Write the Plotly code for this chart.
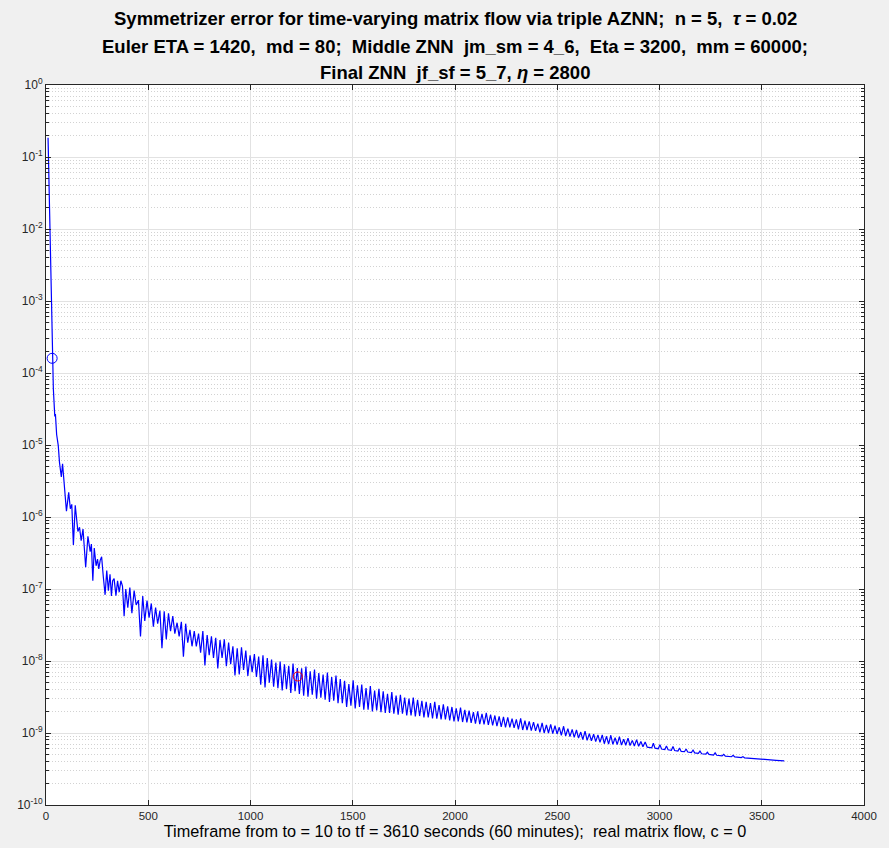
import plotly.graph_objects as go

# ---------------- data ----------------
# initial fast decay and irregular oscillation (t in seconds, error)
early_t = [10, 30, 36, 43, 46, 52, 60, 66, 75, 81, 89, 100, 111, 119, 126, 134,
           143, 150, 156, 164, 172, 181, 194, 205, 216, 222, 229, 236, 245, 252,
           258, 265, 272, 280, 289, 297, 305, 313, 320, 326, 333, 342, 350, 358,
           366, 374, 382, 390, 400]
early_err = [1.85e-1, 1.6e-4, 6.0e-5, 2.5e-5, 2.7e-5, 1.4e-5, 9.8e-6, 5.7e-6,
             3.6e-6, 5.5e-6, 2.6e-6, 1.2e-6, 2.2e-6, 1.3e-6, 1.5e-6, 4.1e-7,
             1.45e-6, 9.0e-7, 6.3e-7, 7.2e-7, 4.7e-7, 6.8e-7, 2.0e-7, 5.4e-7,
             3.3e-7, 4.2e-7, 1.3e-7, 3.7e-7, 2.1e-7, 2.6e-7, 1.9e-7, 2.5e-7,
             2.8e-7, 1.5e-7, 8.3e-8, 1.8e-7, 9.5e-8, 1.6e-7, 8.0e-8, 1.3e-7,
             1.4e-7, 8.1e-8, 1.3e-7, 9.0e-8, 1.3e-7, 1.1e-7, 4.2e-8, 1.0e-7,
             5.5e-8]

# regular oscillation: peak times and trough times (trough 10 s after peak)
peak_t = list(range(410, 2931, 21))
trough_t = [p + 10 for p in peak_t]
peak_err = [
    1.05e-7, 9.5e-8, 7.0e-8, 8.0e-8, 6.9e-8,
    6.3e-8, 5.5e-8, 5.0e-8, 4.9e-8, 4.6e-8,
    4.2e-8, 3.4e-8, 3.5e-8, 3.3e-8, 2.7e-8,
    2.6e-8, 2.4e-8, 2.6e-8, 2.3e-8, 2.2e-8,
    2.1e-8, 1.95e-8, 2.0e-8, 1.8e-8, 1.6e-8,
    1.5e-8, 1.55e-8, 1.4e-8, 1.2e-8, 1.25e-8,
    1.15e-8, 1.2e-8, 1.1e-8, 1.05e-8, 9.5e-9,
    9.8e-9, 9.0e-9, 8.6e-9, 9.2e-9, 8.0e-9,
    7.9e-9, 8.4e-9, 7.2e-9, 7.6e-9, 6.8e-9,
    6.5e-9, 6.9e-9, 6.0e-9, 6.3e-9, 5.6e-9,
    5.3e-9, 4.8e-9, 5.4e-9, 4.6e-9, 4.7e-9,
    4.2e-9, 4.5e-9, 3.9e-9, 4.1e-9, 3.8e-9,
    3.5e-9, 3.7e-9, 3.3e-9, 3.4e-9, 3.1e-9,
    3.0e-9, 3.1e-9, 2.9e-9, 2.8e-9, 2.7e-9,
    2.6e-9, 2.7e-9, 2.45e-9, 2.5e-9, 2.35e-9,
    2.3e-9, 2.2e-9, 2.25e-9, 2.1e-9, 2.05e-9,
    1.95e-9, 2.0e-9, 1.85e-9, 1.9e-9, 1.8e-9,
    1.75e-9, 1.7e-9, 1.68e-9, 1.65e-9, 1.58e-9,
    1.55e-9, 1.6e-9, 1.48e-9, 1.45e-9, 1.42e-9,
    1.35e-9, 1.38e-9, 1.3e-9, 1.32e-9, 1.26e-9,
    1.2e-9, 1.24e-9, 1.15e-9, 1.12e-9, 1.1e-9,
    1.03e-9, 1.06e-9, 9.8e-10, 9.6e-10, 9.4e-10,
    9.4e-10, 9.0e-10, 9.3e-10, 8.6e-10, 8.9e-10,
    8.2e-10, 8.5e-10, 7.9e-10, 8.1e-10, 7.6e-10, 7.5e-10,
]
trough_err = [
    4.6e-8, 6.0e-8, 2.2e-8, 3.6e-8, 4.0e-8,
    3.0e-8, 3.3e-8, 1.5e-8, 2.0e-8, 2.6e-8,
    2.4e-8, 2.2e-8, 1.15e-8, 1.8e-8, 1.6e-8,
    1.6e-8, 1.3e-8, 8.7e-9, 1.2e-8, 1.1e-8,
    7.9e-9, 1.1e-8, 8.5e-9, 9.0e-9, 6.3e-9,
    6.5e-9, 7.5e-9, 6.2e-9, 7.0e-9, 6.0e-9,
    4.7e-9, 4.3e-9, 5.0e-9, 4.4e-9, 4.2e-9,
    3.9e-9, 4.1e-9, 3.6e-9, 3.8e-9, 3.5e-9,
    3.3e-9, 3.2e-9, 3.4e-9, 3.0e-9, 3.1e-9,
    2.9e-9, 2.7e-9, 2.8e-9, 2.6e-9, 2.6e-9,
    2.3e-9, 2.4e-9, 2.2e-9, 2.3e-9, 2.1e-9,
    2.1e-9, 2.0e-9, 2.05e-9, 1.95e-9, 1.9e-9,
    1.9e-9, 1.85e-9, 1.8e-9, 1.85e-9, 1.75e-9,
    1.75e-9, 1.7e-9, 1.72e-9, 1.65e-9, 1.65e-9,
    1.6e-9, 1.58e-9, 1.55e-9, 1.55e-9, 1.5e-9,
    1.45e-9, 1.45e-9, 1.42e-9, 1.4e-9, 1.38e-9,
    1.35e-9, 1.33e-9, 1.32e-9, 1.3e-9, 1.28e-9,
    1.25e-9, 1.22e-9, 1.2e-9, 1.2e-9, 1.18e-9,
    1.12e-9, 1.1e-9, 1.1e-9, 1.08e-9, 1.07e-9,
    1.02e-9, 1.0e-9, 1.0e-9, 9.8e-10, 9.7e-10,
    9.3e-10, 9.1e-10, 8.9e-10, 8.7e-10, 8.5e-10,
    8.1e-10, 7.9e-10, 7.8e-10, 7.6e-10, 7.4e-10,
    7.1e-10, 7.0e-10, 6.95e-10, 6.9e-10, 6.8e-10,
    6.75e-10, 6.7e-10, 6.6e-10, 6.55e-10, 6.45e-10, 6.35e-10,
]

# late part: smooth baseline with sparse small spikes
late_t = [2962, 2970, 2978, 2994, 3002, 3010, 3026, 3034, 3042, 3058, 3066, 3074,
          3090, 3098, 3106, 3122, 3130, 3138, 3156, 3164, 3172, 3190, 3198, 3206,
          3226, 3234, 3242, 3264, 3272, 3280, 3306, 3314, 3322, 3352, 3360, 3368,
          3400, 3408, 3416, 3450, 3458, 3466, 3520, 3570, 3610]
late_err = [6.2e-10, 7.2e-10, 6.15e-10, 6.05e-10, 6.9e-10, 6.0e-10,
            5.9e-10, 6.6e-10, 5.85e-10, 5.75e-10, 6.5e-10, 5.7e-10,
            5.6e-10, 6.2e-10, 5.55e-10, 5.5e-10, 6.0e-10, 5.45e-10,
            5.35e-10, 5.8e-10, 5.3e-10, 5.2e-10, 5.6e-10, 5.15e-10,
            5.1e-10, 5.4e-10, 5.05e-10, 4.95e-10, 5.3e-10, 4.9e-10,
            4.8e-10, 5.05e-10, 4.78e-10, 4.68e-10, 4.9e-10, 4.65e-10,
            4.55e-10, 4.7e-10, 4.52e-10, 4.42e-10, 4.5e-10, 4.4e-10,
            4.28e-10, 4.18e-10, 4.1e-10]

# marked points
blue_mark_t, blue_mark_err = [30], [1.6e-4]
red_mark_t, red_mark_err = [1231], [6.1e-9]

x_ticks = [0, 500, 1000, 1500, 2000, 2500, 3000, 3500, 4000]
y_tick_exp = [0, -1, -2, -3, -4, -5, -6, -7, -8, -9, -10]
y_tick_text = ["10<sup>%d</sup>" % e for e in y_tick_exp]

title_lines = [
    "<b>Symmetrizer error for time-varying matrix flow via triple AZNN;  n = 5,  <i>τ</i> = 0.02</b>",
    "<b>Euler ETA = 1420,  md = 80;  Middle ZNN  jm_sm = 4_6,  Eta = 3200,  mm = 60000;</b>",
    "<b>Final ZNN  jf_sf = 5_7, <i>η</i> = 2800</b>",
]
x_title = "Timeframe from to = 10 to tf = 3610 seconds (60 minutes);  real matrix flow, c = 0"


def keep_spaces(s):
    # SVG collapses repeated spaces; keep MATLAB's double spaces visible
    return s.replace("  ", " \u00a0")


# ---------------- assemble the curve ----------------
t_all = list(early_t)
e_all = list(early_err)
for pt, pe, tt, te in zip(peak_t, peak_err, trough_t, trough_err):
    t_all += [pt, tt]
    e_all += [pe, te]
t_all += late_t
e_all += late_err

W, H = 889, 848
ML, MR, MT, MB = 46, 16, 85, 41
plot_h = H - MT - MB

fig = go.Figure()
fig.add_trace(go.Scatter(x=t_all, y=e_all, mode="lines",
                         line=dict(color="#0000ff", width=1.2), showlegend=False,
                         hoverinfo="skip"))
fig.add_trace(go.Scatter(x=blue_mark_t, y=blue_mark_err, mode="markers",
                         marker=dict(symbol="circle-open", size=10, color="#0000ff",
                                     line=dict(width=1, color="#0000ff")),
                         showlegend=False))
fig.add_trace(go.Scatter(x=red_mark_t, y=red_mark_err, mode="markers",
                         marker=dict(symbol="circle-open", size=9, color="#ff0000",
                                     line=dict(width=1, color="#ff0000")),
                         showlegend=False))

font_family = "Liberation Sans, Arial, Helvetica, sans-serif"
title_y_px = [18, 46, 72]
for line, ypx in zip(title_lines, title_y_px):
    fig.add_annotation(text=keep_spaces(line), xref="paper", yref="paper", x=0.5,
                       y=1 + (MT - ypx) / plot_h, xanchor="center", yanchor="middle",
                       showarrow=False,
                       font=dict(size=18.5, color="#000000", family=font_family))

axis_col = "#262626"
fig.update_layout(
    width=W, height=H,
    margin=dict(l=ML, r=MR, t=MT, b=MB),
    paper_bgcolor="#f0f0f0", plot_bgcolor="#ffffff",
    font=dict(family=font_family, color=axis_col, size=11),
    xaxis=dict(range=[0, 4000], tickvals=x_ticks, ticks="inside", ticklen=5,
               tickcolor=axis_col, showline=True, linecolor=axis_col, linewidth=1,
               mirror="ticks", showgrid=True, gridcolor="#e2e2e2", gridwidth=1,
               zeroline=False, tickfont=dict(size=11.5, color=axis_col),
               title=dict(text=keep_spaces(x_title),
                          font=dict(size=16.3, color="#000000"), standoff=3)),
    yaxis=dict(type="log", range=[-10, 0],
               tickvals=[10.0 ** e for e in y_tick_exp], ticktext=y_tick_text,
               ticks="inside", ticklen=5, tickcolor=axis_col, showline=True,
               linecolor=axis_col, linewidth=1, mirror="ticks", showgrid=True,
               gridcolor="#e2e2e2", gridwidth=1, zeroline=False,
               tickfont=dict(size=12, color=axis_col),
               minor=dict(dtick="D1", ticks="inside", ticklen=3, tickcolor=axis_col,
                          showgrid=True, gridcolor="#d2d2d2", griddash="1px,2px",
                          gridwidth=1)),
)

fig.write_html("out.html")
